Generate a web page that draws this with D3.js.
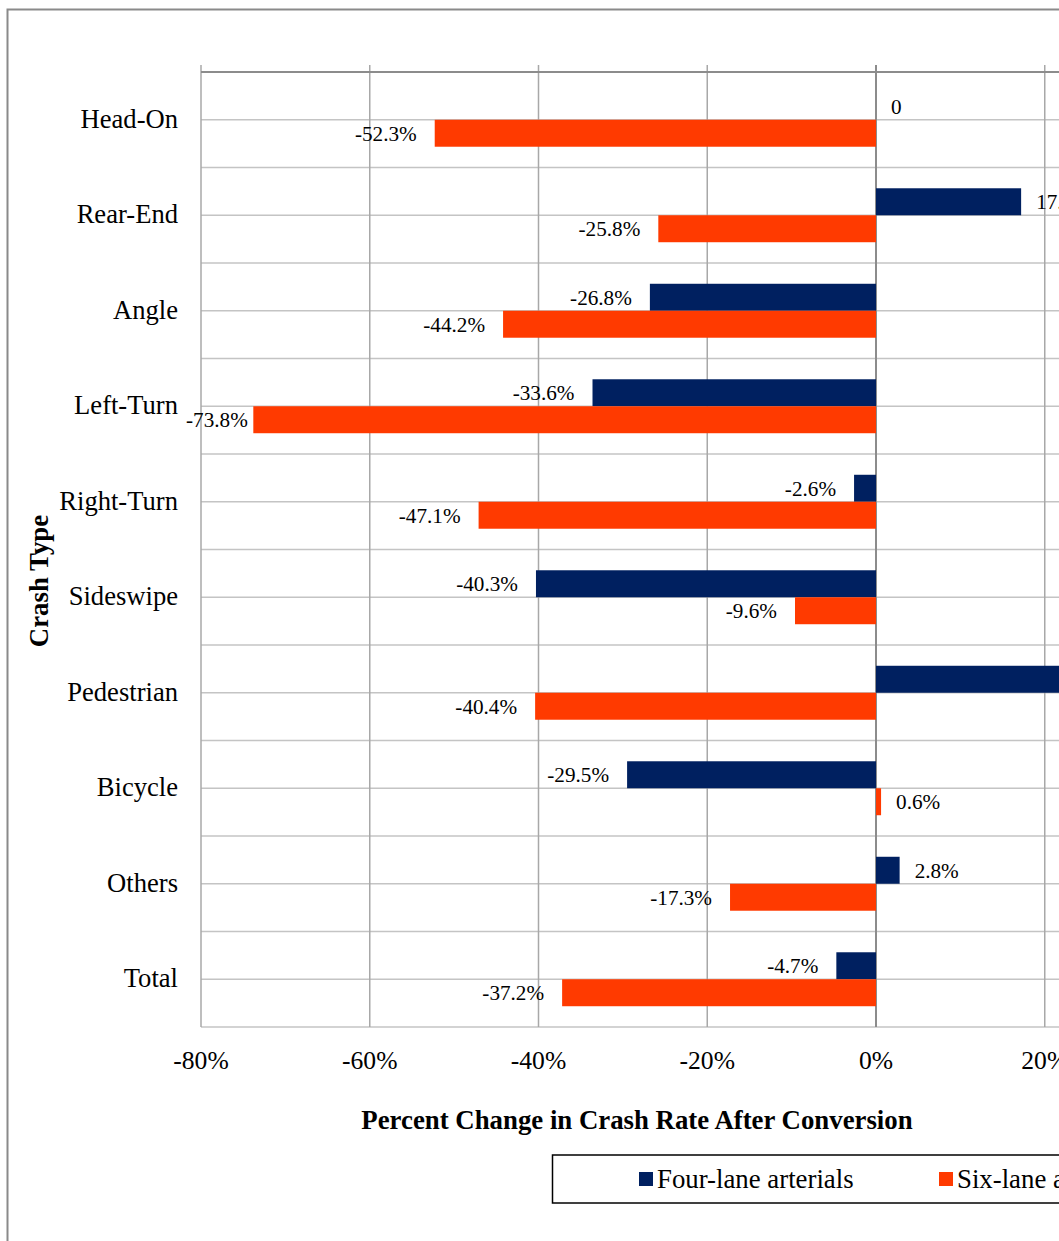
<!DOCTYPE html>
<html>
<head>
<meta charset="utf-8">
<script src="https://cdn.jsdelivr.net/npm/d3@7"></script>
<style>
  html, body { margin: 0; padding: 0; background: #fff; overflow: hidden; }
  text { font-family: "Liberation Serif", "Times New Roman", serif; fill: #000; }
</style>
</head>
<body>
<div id="chart"></div>
<script>
// crash types, top to bottom
const categories = ['Head-On', 'Rear-End', 'Angle', 'Left-Turn', 'Right-Turn',
  'Sideswipe', 'Pedestrian', 'Bicycle', 'Others', 'Total'];
const seriesNames = ['Four-lane arterials', 'Six-lane arterials'];
// percent change, four-lane (pedestrian runs off the picture, estimated)
const fourLane = [0, 17.2, -26.8, -33.6, -2.6, -40.3, 35.0, -29.5, 2.8, -4.7];
const sixLane = [-52.3, -25.8, -44.2, -73.8, -47.1, -9.6, -40.4, 0.6, -17.3, -37.2];
const fourLabels = ['0', '17.2%', '-26.8%', '-33.6%', '-2.6%', '-40.3%', '35.0%', '-29.5%', '2.8%', '-4.7%'];
const sixLabels = ['-52.3%', '-25.8%', '-44.2%', '-73.8%', '-47.1%', '-9.6%', '-40.4%', '0.6%', '-17.3%', '-37.2%'];
const xTicks = [-80, -60, -40, -20, 0, 20, 40];
const colors = ['#002060', '#ff3a00'];

const width = 1059, height = 1241;
const plotLeft = 201, plotTop = 72, plotBottom = 1027;
const step20 = 168.75; // pixels per 20 %

const svg = d3.select('#chart').append('svg')
  .attr('width', width)
  .attr('height', height);

// outer chart border (right and bottom fall outside the picture)
svg.append('rect')
  .attr('x', 7.5).attr('y', 9.5)
  .attr('width', 1300).attr('height', 1400)
  .attr('fill', 'none')
  .attr('stroke', '#8a8a8a')
  .attr('stroke-width', 2);

const x = d3.scaleLinear()
  .domain([-80, 40])
  .range([plotLeft, plotLeft + step20 * 6]);

const y = d3.scaleBand()
  .domain(categories)
  .range([plotTop, plotBottom])
  .paddingInner(0.435)
  .paddingOuter(0.2175);

const ySub = d3.scaleBand()
  .domain([0, 1])
  .range([0, y.bandwidth()]);

// horizontal grid, every half band
const halfLines = d3.range(0, 21).map(k => plotTop + k * (plotBottom - plotTop) / 20);
svg.append('g').selectAll('line')
  .data(halfLines.slice(1))
  .enter().append('line')
  .attr('x1', plotLeft).attr('x2', width + 200)
  .attr('y1', d => d).attr('y2', d => d)
  .attr('stroke', '#c4c4c4')
  .attr('stroke-width', 1.5);

// vertical grid
svg.append('g').selectAll('line')
  .data(xTicks)
  .enter().append('line')
  .attr('x1', d => x(d)).attr('x2', d => x(d))
  .attr('y1', plotTop - 7).attr('y2', plotBottom)
  .attr('stroke', d => d === 0 ? '#8c8c8c' : '#a8a8a8')
  .attr('stroke-width', d => d === 0 ? 2 : 1.5);

// top axis line
svg.append('line')
  .attr('x1', plotLeft).attr('x2', width + 200)
  .attr('y1', plotTop).attr('y2', plotTop)
  .attr('stroke', '#8c8c8c')
  .attr('stroke-width', 2);

// bars
const series = [fourLane, sixLane];
const labels = [fourLabels, sixLabels];
series.forEach(function(vals, s) {
  svg.append('g').selectAll('rect')
    .data(vals)
    .enter().append('rect')
    .attr('x', d => x(Math.min(0, d)))
    .attr('y', (d, i) => y(categories[i]) + ySub(s))
    .attr('width', d => Math.abs(x(d) - x(0)))
    .attr('height', ySub.bandwidth())
    .attr('fill', colors[s]);

  svg.append('g').selectAll('text')
    .data(vals)
    .enter().append('text')
    .attr('y', (d, i) => y(categories[i]) + ySub(s) + ySub.bandwidth() / 2)
    .attr('dy', '0.35em')
    .style('font-size', '21.2px')
    .attr('text-anchor', d => d < 0 ? 'end' : 'start')
    .attr('x', d => d < 0 ? x(d) - 18 : x(d) + 15)
    .text((d, i) => labels[s][i])
    .each(function(d) {
      // keep labels of long bars inside the chart, like the spreadsheet does
      if (d < 0) {
        const w = this.getComputedTextLength();
        if (x(d) - 18 - w < 186) {
          d3.select(this).attr('text-anchor', 'start').attr('x', 186);
        }
      }
    });
});

// category labels
svg.append('g').selectAll('text')
  .data(categories)
  .enter().append('text')
  .attr('x', 178)
  .attr('y', d => y(d) + y.bandwidth() / 2)
  .attr('dy', '0.3em')
  .attr('text-anchor', 'end')
  .style('font-size', '26.6px')
  .text(d => d);

// x tick labels
svg.append('g').selectAll('text')
  .data(xTicks)
  .enter().append('text')
  .attr('x', d => x(d))
  .attr('y', 1069)
  .attr('text-anchor', 'middle')
  .style('font-size', '25.6px')
  .text(d => d + '%');

// axis titles
svg.append('text')
  .attr('x', 637)
  .attr('y', 1129)
  .attr('text-anchor', 'middle')
  .style('font-size', '26.8px')
  .style('font-weight', 'bold')
  .text('Percent Change in Crash Rate After Conversion');

svg.append('text')
  .attr('transform', 'translate(48,581) rotate(-90)')
  .attr('text-anchor', 'middle')
  .style('font-size', '26.8px')
  .style('font-weight', 'bold')
  .text('Crash Type');

// legend
const legend = svg.append('g');
legend.append('rect')
  .attr('x', 552.5).attr('y', 1155)
  .attr('width', 700).attr('height', 48)
  .attr('fill', '#fff')
  .attr('stroke', '#000')
  .attr('stroke-width', 1.5);

const legendX = [639, 939];
seriesNames.forEach(function(name, i) {
  legend.append('rect')
    .attr('x', legendX[i]).attr('y', 1172)
    .attr('width', 14).attr('height', 14)
    .attr('fill', colors[i]);
  legend.append('text')
    .attr('x', legendX[i] + 18)
    .attr('y', 1188)
    .style('font-size', '26.8px')
    .text(name);
});
</script>
</body>
</html>
